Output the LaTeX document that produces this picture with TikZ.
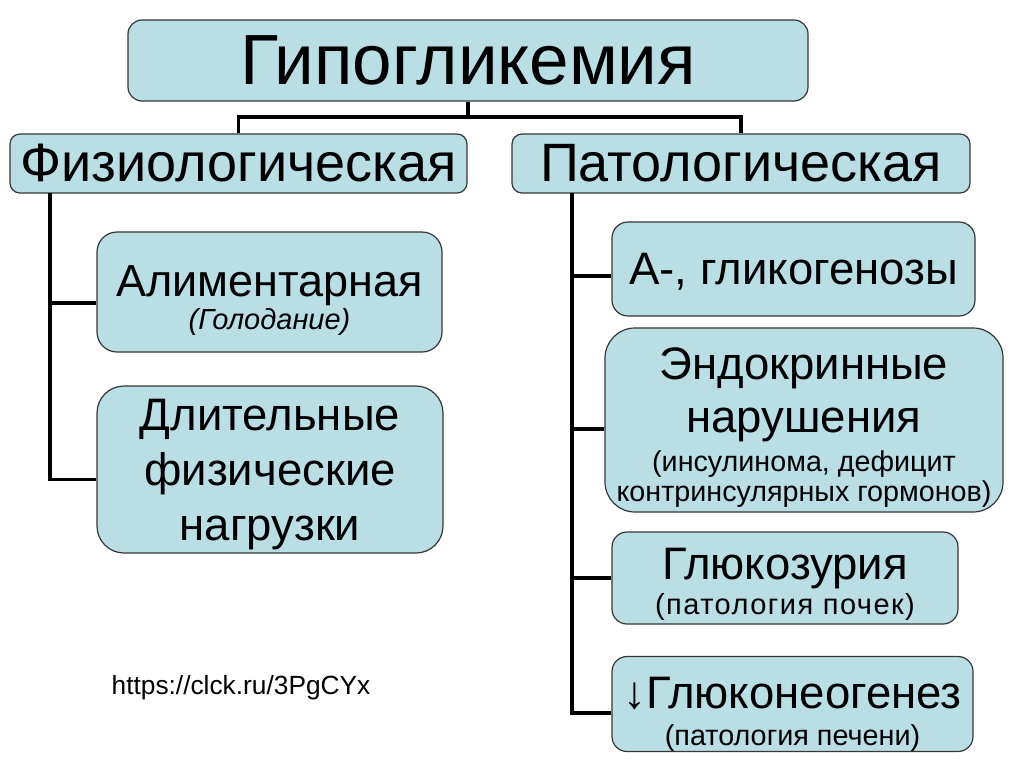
\documentclass[tikz,border=0pt]{standalone}
\usepackage{fontspec}
\setmainfont{Liberation Sans}
\definecolor{boxfill}{RGB}{185,222,228}
\definecolor{boxline}{RGB}{55,55,55}
\newcommand\fsz[2]{\fontsize{#1}{#2}\selectfont}
\begin{document}
\begin{tikzpicture}[x=1pt,y=-1pt,
  box/.style={draw=boxline,line width=1.2pt,fill=boxfill,rounded corners=#1,
    inner sep=0pt,align=center,anchor=center,font=\fsz{45.5}{54}},
  conn/.style={line width=3.1pt,draw=black}]
\useasboundingbox[fill=white] (0,0) rectangle (1024,768);

% top
\node[box=14pt,minimum width=680pt,minimum height=81pt,font=\fsz{71}{80}] (top) at (468,60.5) {Гипогликемия};
% level 2
\node[box=10pt,minimum width=457pt,minimum height=59pt,font=\fsz{54}{60}] (fiz) at (238.5,163.5) {Физиологическая};
\node[box=10pt,minimum width=458pt,minimum height=59pt,font=\fsz{54}{60}] (pat) at (741,163.5) {Патологическая};
% left children
\node[box=20pt,minimum width=345pt,minimum height=120pt] (ali) at (269.5,292)
  {\rule{0pt}{48pt}\fsz{45}{54}Алиментарная\\[-21pt]{\itshape\fsz{29}{30}(Голодание)}};
\node[box=27pt,minimum width=346pt,minimum height=167pt] (dl) at (270,469.5)
  {\rule{0pt}{42pt}Длительные\\[1pt]физические\\[1pt]нагрузки};
% right children
\node[box=16pt,minimum width=363pt,minimum height=94pt] (ag) at (793.5,269) {\rule{0pt}{36pt}А-, гликогенозы};
\node[box=30pt,minimum width=398pt,minimum height=184pt] (endo) at (804,420)
  {\rule{0pt}{46pt}Эндокринные\\[-1pt]нарушения\\[-15pt]{\fsz{28.7}{30}(инсулинома, дефицит}\\[-24pt]{\fsz{28.7}{30}контринсулярных гормонов)}};
\node[box=15pt,minimum width=346pt,minimum height=92pt] (glu) at (785,578)
  {\rule{0pt}{44pt}Глюкозурия\\[-19pt]{\fsz{29}{30}\addfontfeature{LetterSpace=5}(патология почек)}};
\node[box=15pt,minimum width=361pt,minimum height=92pt] (gng) at (792.5,704)
  {\rule{0pt}{52pt}↓Глюконеогенез\\[-17pt]{\fsz{28.8}{30}(патология печени)}};

\node[font=\fsz{26.3}{30},anchor=center] (url) at (241,688) {https://clck.ru/3PgCYx};

% connectors
\coordinate (hb) at (468,117);
\draw[conn] (top.south) -- (hb);
\draw[conn] (hb) -| (fiz.north);
\draw[conn] (hb) -| (pat.north);
\coordinate (lt) at (50,193);
\draw[conn] (lt) |- ([yshift=-11pt]ali.west);
\draw[conn] (lt) |- ([yshift=-10pt]dl.west);
\coordinate (rt) at (572,193);
\draw[conn] (rt) |- ([yshift=-7pt]ag.west);
\draw[conn] (rt) |- ([yshift=-9pt]endo.west);
\draw[conn] (rt) |- (glu.west);
\draw[conn] (rt) |- ([yshift=-9pt]gng.west);
\end{tikzpicture}
\end{document}
